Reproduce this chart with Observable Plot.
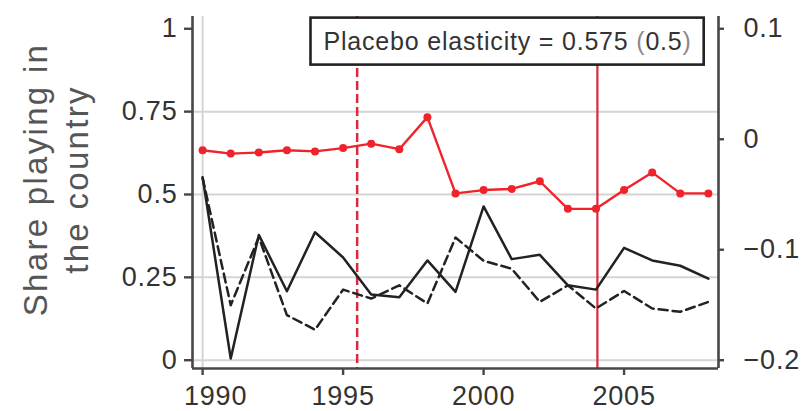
<!DOCTYPE html>
<html>
<head>
<meta charset="utf-8">
<script src="https://cdn.jsdelivr.net/npm/d3@7"></script>
<script src="https://cdn.jsdelivr.net/npm/@observablehq/plot@0.6"></script>
<style>
  html, body { margin: 0; padding: 0; background: #fff; }
  #chart svg { display: block; }
</style>
</head>
<body>
<div id="chart"></div>
<script>
// Yearly series
const years = [1990, 1991, 1992, 1993, 1994, 1995, 1996, 1997, 1998, 1999,
               2000, 2001, 2002, 2003, 2004, 2005, 2006, 2007, 2008];
// Share playing in the country (left axis): observed and placebo
const shareObserved = [0.552, 0.005, 0.378, 0.208, 0.386, 0.310, 0.198, 0.190, 0.301, 0.206,
                       0.464, 0.305, 0.318, 0.226, 0.213, 0.339, 0.301, 0.285, 0.246];
const sharePlacebo  = [0.550, 0.166, 0.371, 0.136, 0.092, 0.213, 0.186, 0.226, 0.171, 0.370,
                       0.300, 0.276, 0.176, 0.226, 0.156, 0.209, 0.156, 0.146, 0.176];
// Elasticity (right axis units)
const elasticity = [-0.010, -0.013, -0.012, -0.010, -0.011, -0.008, -0.004, -0.009, 0.020, -0.049,
                    -0.046, -0.045, -0.038, -0.063, -0.063, -0.046, -0.030, -0.049, -0.049];

// Reference years marked by vertical lines
const dashedEventYear = [1995.5];
const solidEventYear = [2004.05];

// Annotation values
const placeboElasticity = "0.575";
const placeboSE = "0.5";

// Axes
const xDomain = [1989.64, 2008.36];
const yDomain = [-0.025, 1.037];
const xTicks = [1990, 1995, 2000, 2005];
const xGrid = [1990];
const leftTicks = [0, 0.25, 0.5, 0.75, 1];
const leftGrid = [0, 0.25, 0.5, 0.75];
const rightDomain = [-0.2, 0.1];       // spans the same height as 0..1 on the left
const rightTicks = [-0.2, -0.1, 0, 0.1];
const yTitle = "Share playing in\nthe country";

const toLeft = r => (r - rightDomain[0]) / (rightDomain[1] - rightDomain[0]);
const toRight = v => Math.round((rightDomain[0] + v * (rightDomain[1] - rightDomain[0])) * 1000) / 1000;
const fmtRight = v => { const r = toRight(v); return r < 0 ? "\u2212" + Math.abs(r) : String(r); };

const rows = years.map((year, i) => ({
  year,
  observed: shareObserved[i],
  placebo: sharePlacebo[i],
  elasticity: toLeft(elasticity[i])
}));

const axisColor = "#474747";
const red = "#f0232a";
const eventRed = "#d92844";

const chart = Plot.plot({
  width: 808,
  height: 411,
  marginLeft: 192,
  marginRight: 90,
  marginTop: 16,
  marginBottom: 43,
  style: {
    fontFamily: "'Liberation Sans', Arial, Helvetica, sans-serif",
    fontSize: "27px",
    color: "#333",
    background: "#fff",
    letterSpacing: "0.8px"
  },
  x: {domain: xDomain},
  y: {domain: yDomain},
  marks: [
    Plot.gridY(leftGrid, {stroke: "#d4d4d4", strokeOpacity: 1, strokeWidth: 2}),
    Plot.gridX(xGrid, {stroke: "#d4d4d4", strokeOpacity: 1, strokeWidth: 2}),
    Plot.ruleX(dashedEventYear, {stroke: eventRed, strokeWidth: 2.5, strokeDasharray: "9,4"}),
    Plot.ruleX(solidEventYear, {stroke: eventRed, strokeWidth: 2.2}),
    Plot.line(rows, {x: "year", y: "placebo", stroke: "#222", strokeWidth: 2.5, strokeDasharray: "9,5"}),
    Plot.line(rows, {x: "year", y: "observed", stroke: "#222", strokeWidth: 2.5}),
    Plot.line(rows, {x: "year", y: "elasticity", stroke: red, strokeWidth: 2.4}),
    Plot.dot(rows, {x: "year", y: "elasticity", fill: red, r: 4}),
    // frame: left, right and bottom edges
    Plot.ruleX([xDomain[0], xDomain[1]], {stroke: axisColor, strokeWidth: 2.6}),
    Plot.ruleY([yDomain[0]], {stroke: axisColor, strokeWidth: 2.6}),
    Plot.axisY(leftTicks, {anchor: "left", tickSize: 8, tickPadding: 7, stroke: axisColor, strokeWidth: 2.4,
      tickFormat: d => String(d), label: null}),
    Plot.axisY(rightTicks.map(toLeft), {anchor: "right", tickSize: 5, tickPadding: 20, stroke: axisColor, strokeWidth: 2.4,
      tickFormat: fmtRight, label: null}),
    Plot.axisX(xTicks, {anchor: "bottom", tickSize: 7, tickPadding: 10, stroke: axisColor, strokeWidth: 2.4,
      tickFormat: d => String(d), label: null}),
    Plot.text([yTitle], {frameAnchor: "left", textAnchor: "middle", lineAnchor: "middle",
      dx: -138, dy: -13, rotate: -90, lineHeight: 1.25, fontSize: 33, fill: "#555"}),
    Plot.text([`Placebo elasticity = ${placeboElasticity} (${placeboSE})`], {
      frameAnchor: "top-left", textAnchor: "start", lineAnchor: "middle",
      dx: 131, dy: 25.6, fontSize: 25, fill: "#333"})
  ]
});

document.getElementById("chart").appendChild(chart);

const ns = "http://www.w3.org/2000/svg";
const texts = Array.from(chart.querySelectorAll("text"));

// The first year label sits clear of the left axis line
const firstYear = texts.find(t => t.textContent === String(xTicks[0]));
if (firstYear) firstYear.setAttribute("dx", 13);

// Looser tracking on the axis title
const title = texts.find(t => t.textContent.startsWith("Share"));
if (title) title.style.letterSpacing = "2.3px";

// Boxed annotation: white box with dark border behind the placebo label,
// parentheses in lighter grey.
const label = texts.find(t => t.textContent.startsWith("Placebo"));
if (label) {
  label.textContent = "";
  const parts = [
    [`Placebo elasticity = ${placeboElasticity} `, null],
    ["(", "#8a8a8a"],
    [placeboSE, null],
    [")", "#8a8a8a"]
  ];
  for (const [s, fill] of parts) {
    const ts = document.createElementNS(ns, "tspan");
    ts.textContent = s;
    if (fill) ts.setAttribute("fill", fill);
    label.appendChild(ts);
  }
  const b = label.getBBox();
  const g = label.parentNode;
  const rect = document.createElementNS(ns, "rect");
  rect.setAttribute("x", b.x - 13);
  rect.setAttribute("y", b.y - 9.5);
  rect.setAttribute("width", b.width + 25);
  rect.setAttribute("height", b.height + 19);
  rect.setAttribute("fill", "#fff");
  rect.setAttribute("stroke", "#222");
  rect.setAttribute("stroke-width", 2.6);
  const tf = label.getAttribute("transform");
  if (tf) rect.setAttribute("transform", tf);
  g.insertBefore(rect, label);
}
</script>
</body>
</html>
